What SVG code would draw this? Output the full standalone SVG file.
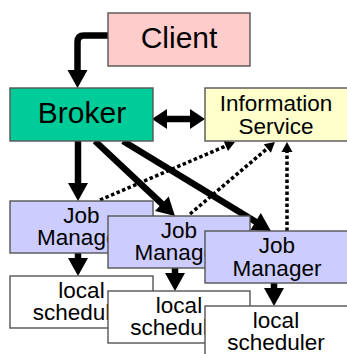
<svg xmlns="http://www.w3.org/2000/svg" width="347" height="354" viewBox="0 0 347 354">
<style>
.box{stroke:#555;stroke-width:1.4}
.t{font-family:"Liberation Sans",Arial,sans-serif;fill:#000;text-anchor:middle}
.big{font-size:30px}
.sm{font-size:22.5px}
.thick{fill:none;stroke:#000;stroke-width:6.5}
.dot{fill:none;stroke:#000;stroke-width:3.5;stroke-dasharray:3.5 2.5}
</style>
<defs>
<marker id="ah" markerUnits="userSpaceOnUse" markerWidth="18" markerHeight="20" refX="2" refY="10" orient="auto" overflow="visible"><path d="M0,0 L18,10 L0,20 z" fill="#000"/></marker>
<marker id="ah2" markerUnits="userSpaceOnUse" markerWidth="15" markerHeight="20" refX="2" refY="10" orient="auto-start-reverse" overflow="visible"><path d="M0,0 L15,10 L0,20 z" fill="#000"/></marker>
<marker id="ad" markerUnits="userSpaceOnUse" markerWidth="10" markerHeight="11" refX="1" refY="5.5" orient="auto" overflow="visible"><path d="M0,0 L10,5.5 L0,11 z" fill="#000"/></marker>
</defs>
<rect width="347" height="354" fill="#fff"/>
<g id="connectors">
<path class="thick" d="M108,35.5 H84 Q77.5,35.5 77.5,42 V72" marker-end="url(#ah)"/>
<path class="thick" d="M165,119 H192" marker-start="url(#ah2)" marker-end="url(#ah2)"/>
<path class="thick" d="M78,141 V185" marker-end="url(#ah)"/>
<path class="thick" d="M95,141 L163.3,205.1" marker-end="url(#ah)"/>
<path class="thick" d="M123,141 L257.3,222.7" marker-end="url(#ah)"/>
<path class="thick" d="M78,253 V260" marker-end="url(#ah)"/>
<path class="thick" d="M175,268 V275" marker-end="url(#ah)"/>
<path class="thick" d="M274,283 V290" marker-end="url(#ah)"/>
<path class="dot" d="M100,200 L226.7,145.6" marker-end="url(#ad)"/>
<path class="dot" d="M190,214 L268.1,147.8" marker-end="url(#ad)"/>
<path class="dot" d="M287,231 V151" marker-end="url(#ad)"/>
</g>
<g id="client"><rect class="box" x="108" y="13" width="142" height="53" fill="#ffcccc"/><text class="t big" x="179" y="48">Client</text></g>
<g id="broker"><rect class="box" x="10" y="88" width="143" height="53" fill="#00cc99"/><text class="t big" x="82" y="123">Broker</text></g>
<g id="info"><rect class="box" x="205" y="88" width="146" height="53" fill="#ffffcc"/><text class="t sm" x="276" y="110.5">Information<tspan x="276" dy="23.5">Service</tspan></text></g>
<g id="jm1"><rect class="box" x="10" y="201" width="143" height="52" fill="#ccccff"/><text class="t sm" x="81.5" y="223">Job<tspan x="81.5" dy="22">Manager</tspan></text></g>
<g id="jm2"><rect class="box" x="108" y="216" width="142" height="52" fill="#ccccff"/><text class="t sm" x="179" y="238">Job<tspan x="179" dy="22">Manager</tspan></text></g>
<g id="jm3"><rect class="box" x="205" y="231" width="146" height="52" fill="#ccccff"/><text class="t sm" x="277" y="253">Job<tspan x="277" dy="23">Manager</tspan></text></g>
<g id="ls1"><rect class="box" x="10" y="276" width="143" height="52" fill="#fff"/><text class="t sm" x="81.5" y="298">local<tspan x="81.5" dy="22">scheduler</tspan></text></g>
<g id="ls2"><rect class="box" x="108" y="291" width="142" height="52" fill="#fff"/><text class="t sm" x="179" y="313">local<tspan x="179" dy="22">scheduler</tspan></text></g>
<g id="ls3"><rect class="box" x="205" y="306" width="146" height="52" fill="#fff"/><text class="t sm" x="276" y="328">local<tspan x="276" dy="22">scheduler</tspan></text></g>
</svg>
